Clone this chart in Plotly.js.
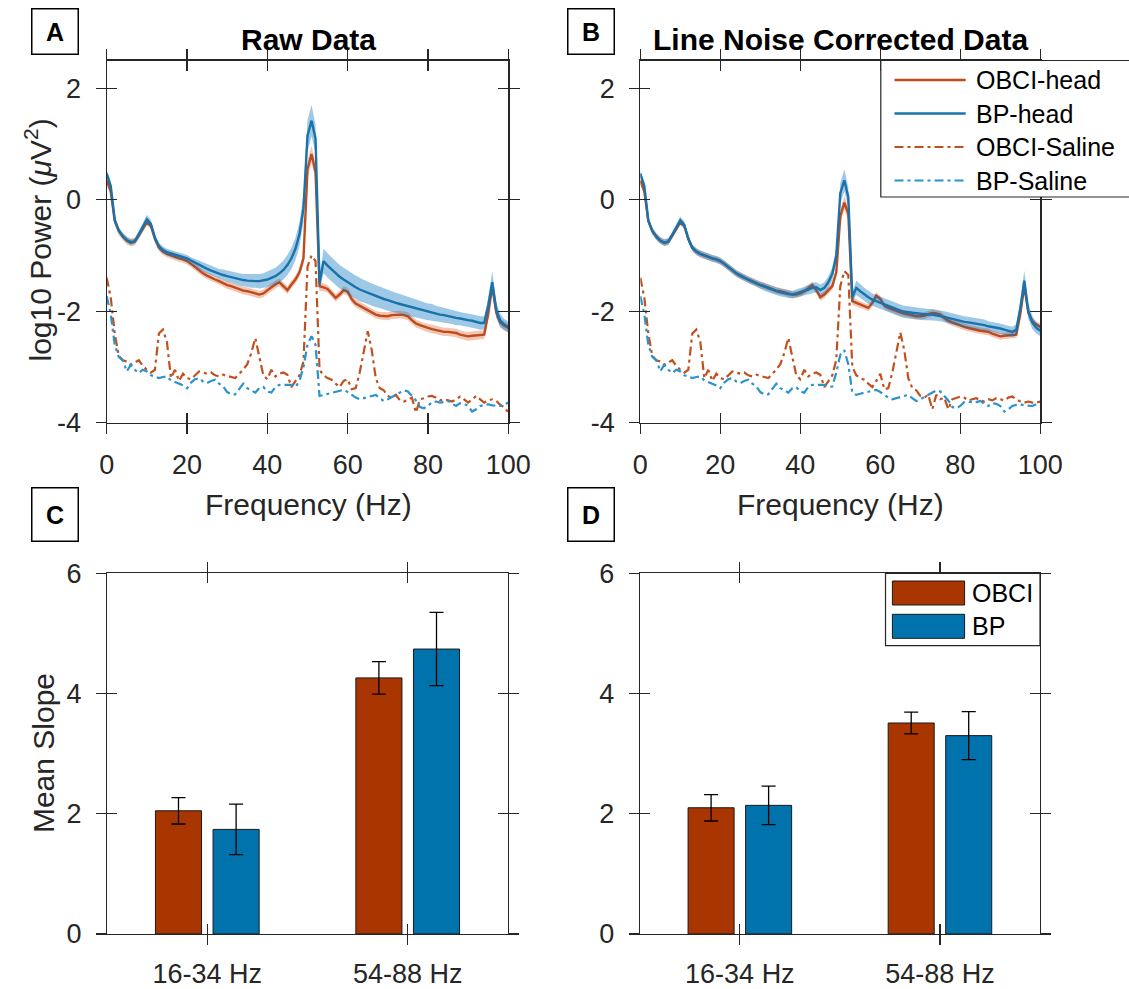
<!DOCTYPE html>
<html>
<head>
<meta charset="utf-8">
<script src="https://cdn.plot.ly/plotly-3.0.1.min.js"></script>
<style>html,body{margin:0;padding:0;background:#fff}#chart{width:1129px;height:989px}</style>
</head>
<body>
<div id="chart"></div>
<script>
// ---------------- DATA ----------------
const freqHz = [0,1,2,3,4,5,6,7,8,9,10,11,12,13,14,15,16,17,18,19,20,21,22,23,24,25,26,27,28,29,30,31,32,33,34,35,36,37,38,39,40,41,42,43,44,45,46,47,48,49,50,51,52,53,54,55,56,57,58,59,60,61,62,63,64,65,66,67,68,69,70,71,72,73,74,75,76,77,78,79,80,81,82,83,84,85,86,87,88,89,90,91,92,93,94,95,96,97,98,99,100];

// Panel A (raw data) – mean log10 power
const rawObciHead = [0.35,0.15,-0.38,-0.56,-0.66,-0.73,-0.77,-0.75,-0.64,-0.52,
 -0.40,-0.47,-0.70,-0.86,-0.93,-0.97,-1.00,-1.03,-1.05,-1.07,
 -1.10,-1.15,-1.21,-1.27,-1.32,-1.36,-1.40,-1.43,-1.46,-1.50,
 -1.53,-1.55,-1.58,-1.61,-1.63,-1.64,-1.66,-1.68,-1.70,-1.68,
 -1.62,-1.57,-1.52,-1.48,-1.55,-1.62,-1.52,-1.43,-1.30,-1.05,
 0.55,0.82,0.50,-1.55,-1.57,-1.60,-1.68,-1.76,-1.70,-1.62,
 -1.65,-1.78,-1.86,-1.90,-1.94,-1.98,-2.02,-2.06,-2.08,-2.09,
 -2.09,-2.07,-2.06,-2.06,-2.07,-2.09,-2.16,-2.22,-2.25,-2.28,
 -2.30,-2.32,-2.34,-2.36,-2.37,-2.37,-2.38,-2.39,-2.42,-2.44,
 -2.45,-2.44,-2.43,-2.43,-2.42,-2.05,-1.55,-2.02,-2.20,-2.26,-2.30];
const rawBpHead = [0.47,0.25,-0.36,-0.55,-0.65,-0.72,-0.76,-0.74,-0.62,-0.48,
 -0.35,-0.43,-0.68,-0.83,-0.90,-0.94,-0.96,-0.98,-1.00,-1.02,
 -1.05,-1.09,-1.13,-1.17,-1.21,-1.24,-1.27,-1.30,-1.33,-1.35,
 -1.37,-1.39,-1.41,-1.43,-1.44,-1.45,-1.46,-1.46,-1.46,-1.45,
 -1.43,-1.40,-1.37,-1.32,-1.26,-1.17,-1.05,-0.88,-0.62,-0.15,
 1.15,1.42,1.10,-1.50,-1.10,-1.18,-1.25,-1.32,-1.38,-1.43,
 -1.48,-1.53,-1.57,-1.61,-1.64,-1.67,-1.70,-1.73,-1.75,-1.78,
 -1.80,-1.83,-1.85,-1.87,-1.89,-1.91,-1.93,-1.95,-1.97,-1.99,
 -2.01,-2.02,-2.04,-2.06,-2.07,-2.09,-2.10,-2.12,-2.13,-2.15,
 -2.16,-2.17,-2.19,-2.21,-2.21,-1.90,-1.48,-1.97,-2.17,-2.24,-2.28];
const rawObciSaline = [-1.40,-1.75,-2.40,-2.80,-2.88,-2.90,-2.96,-2.92,-2.88,-2.98,
 -3.05,-3.10,-3.05,-2.40,-2.33,-2.55,-3.20,-3.05,-3.25,-3.12,
 -3.20,-3.22,-3.14,-3.08,-3.10,-3.12,-3.10,-3.15,-3.17,-3.14,
 -3.16,-3.18,-3.20,-3.12,-3.05,-2.95,-2.75,-2.48,-2.85,-3.15,
 -3.22,-3.05,-3.17,-3.12,-3.10,-3.14,-3.36,-3.25,-3.15,-2.90,
 -1.20,-1.00,-1.10,-3.05,-3.15,-3.20,-3.23,-3.30,-3.36,-3.25,
 -3.22,-3.40,-3.38,-3.10,-2.75,-2.36,-2.70,-3.20,-3.38,-3.42,
 -3.52,-3.55,-3.50,-3.60,-3.62,-3.58,-3.55,-3.82,-3.58,-3.56,
 -3.53,-3.52,-3.55,-3.60,-3.58,-3.60,-3.62,-3.58,-3.53,-3.58,
 -3.64,-3.58,-3.52,-3.58,-3.64,-3.60,-3.58,-3.61,-3.68,-3.72,-3.82];
const rawBpSaline = [-1.73,-2.05,-2.60,-2.82,-2.88,-3.08,-2.96,-3.05,-3.11,-3.05,
 -3.08,-3.15,-3.17,-3.20,-3.18,-3.17,-3.24,-3.27,-3.29,-3.33,
 -3.38,-3.28,-3.22,-3.20,-3.26,-3.29,-3.25,-3.23,-3.30,-3.35,
 -3.45,-3.49,-3.49,-3.40,-3.30,-3.38,-3.42,-3.46,-3.38,-3.36,
 -3.44,-3.46,-3.36,-3.32,-3.32,-3.32,-3.32,-3.36,-3.25,-3.00,
 -2.60,-2.45,-2.60,-3.52,-3.50,-3.48,-3.46,-3.44,-3.42,-3.41,
 -3.45,-3.50,-3.55,-3.58,-3.56,-3.55,-3.52,-3.50,-3.56,-3.61,
 -3.58,-3.54,-3.50,-3.46,-3.42,-3.44,-3.52,-3.60,-3.72,-3.74,
 -3.70,-3.63,-3.62,-3.64,-3.63,-3.61,-3.66,-3.70,-3.65,-3.66,
 -3.70,-3.80,-3.76,-3.70,-3.68,-3.67,-3.69,-3.70,-3.70,-3.67,-3.64];
const rawObciHeadSem = [0.07,0.07,0.07,0.07,0.07,0.07,0.07,0.07,0.07,0.07,
 0.06,0.06,0.06,0.06,0.06,0.06,0.06,0.06,0.06,0.06,
 0.06,0.06,0.06,0.06,0.06,0.06,0.06,0.06,0.06,0.06,
 0.07,0.07,0.07,0.07,0.07,0.07,0.07,0.07,0.07,0.07,
 0.07,0.07,0.07,0.07,0.07,0.07,0.07,0.07,0.08,0.10,
 0.15,0.15,0.15,0.08,0.07,0.07,0.07,0.07,0.07,0.07,
 0.07,0.07,0.07,0.07,0.07,0.07,0.07,0.07,0.07,0.07,
 0.07,0.07,0.07,0.07,0.07,0.07,0.07,0.07,0.07,0.07,
 0.075,0.075,0.075,0.075,0.075,0.075,0.075,0.075,0.075,0.075,
 0.08,0.08,0.08,0.08,0.08,0.10,0.12,0.10,0.08,0.08,0.08];
const rawBpHeadSem = [0.08,0.07,0.06,0.05,0.05,0.05,0.05,0.05,0.06,0.07,
 0.08,0.07,0.06,0.06,0.06,0.06,0.06,0.06,0.06,0.06,
 0.06,0.06,0.07,0.07,0.08,0.08,0.08,0.09,0.09,0.10,
 0.10,0.10,0.11,0.11,0.11,0.12,0.12,0.12,0.13,0.13,
 0.14,0.14,0.15,0.16,0.17,0.18,0.19,0.20,0.22,0.25,
 0.28,0.28,0.25,0.12,0.22,0.22,0.22,0.21,0.21,0.21,
 0.21,0.21,0.21,0.21,0.20,0.20,0.20,0.20,0.19,0.19,
 0.19,0.18,0.18,0.18,0.17,0.17,0.17,0.16,0.16,0.15,
 0.15,0.15,0.14,0.14,0.14,0.13,0.13,0.13,0.12,0.12,
 0.12,0.12,0.12,0.12,0.12,0.14,0.20,0.14,0.12,0.10,0.10];

// Panel B (line noise corrected)
const cleanObciHead = [0.35,0.15,-0.38,-0.56,-0.66,-0.73,-0.77,-0.75,-0.64,-0.52,
 -0.40,-0.47,-0.70,-0.86,-0.93,-0.97,-1.00,-1.03,-1.05,-1.07,
 -1.10,-1.15,-1.21,-1.27,-1.32,-1.36,-1.40,-1.43,-1.46,-1.50,
 -1.53,-1.55,-1.58,-1.61,-1.63,-1.64,-1.66,-1.68,-1.70,-1.70,
 -1.68,-1.64,-1.58,-1.53,-1.62,-1.75,-1.70,-1.62,-1.55,-1.30,
 -0.30,-0.05,-0.25,-1.82,-1.85,-1.88,-1.91,-1.94,-1.85,-1.72,
 -1.78,-1.90,-1.94,-1.97,-2.00,-2.02,-2.04,-2.06,-2.08,-2.09,
 -2.09,-2.08,-2.05,-2.03,-2.04,-2.06,-2.12,-2.17,-2.20,-2.23,
 -2.26,-2.28,-2.30,-2.32,-2.34,-2.35,-2.36,-2.37,-2.40,-2.43,
 -2.45,-2.44,-2.43,-2.43,-2.42,-2.05,-1.55,-2.02,-2.18,-2.24,-2.28];
const cleanBpHead = [0.47,0.25,-0.37,-0.56,-0.66,-0.73,-0.77,-0.75,-0.63,-0.50,
 -0.37,-0.45,-0.70,-0.86,-0.93,-0.97,-1.00,-1.03,-1.05,-1.07,
 -1.10,-1.15,-1.21,-1.27,-1.32,-1.36,-1.40,-1.44,-1.47,-1.50,
 -1.53,-1.56,-1.59,-1.62,-1.64,-1.66,-1.68,-1.69,-1.70,-1.68,
 -1.66,-1.64,-1.61,-1.58,-1.57,-1.62,-1.58,-1.48,-1.33,-1.00,
 0.12,0.35,0.05,-1.75,-1.58,-1.64,-1.70,-1.75,-1.79,-1.82,
 -1.85,-1.88,-1.91,-1.94,-1.97,-1.99,-2.01,-2.02,-2.03,-2.04,
 -2.05,-2.06,-2.06,-2.06,-2.07,-2.08,-2.10,-2.12,-2.14,-2.16,
 -2.18,-2.19,-2.20,-2.21,-2.23,-2.24,-2.25,-2.27,-2.28,-2.30,
 -2.31,-2.33,-2.35,-2.37,-2.33,-1.95,-1.45,-2.00,-2.20,-2.30,-2.35];
const cleanObciSaline = [-1.40,-1.75,-2.40,-2.80,-2.88,-2.90,-2.96,-2.92,-2.88,-2.98,
 -3.05,-3.10,-3.05,-2.40,-2.33,-2.55,-3.20,-3.05,-3.25,-3.12,
 -3.20,-3.22,-3.14,-3.08,-3.10,-3.12,-3.10,-3.15,-3.17,-3.14,
 -3.16,-3.18,-3.20,-3.12,-3.05,-2.95,-2.75,-2.48,-2.85,-3.15,
 -3.22,-3.05,-3.17,-3.12,-3.10,-3.14,-3.36,-3.25,-3.15,-2.87,
 -1.55,-1.28,-1.35,-3.00,-3.15,-3.20,-3.23,-3.30,-3.36,-3.25,
 -3.12,-3.40,-3.38,-3.10,-2.75,-2.38,-2.70,-3.20,-3.38,-3.42,
 -3.52,-3.55,-3.50,-3.76,-3.50,-3.58,-3.55,-3.76,-3.58,-3.56,
 -3.53,-3.55,-3.60,-3.58,-3.56,-3.60,-3.62,-3.58,-3.60,-3.56,
 -3.58,-3.60,-3.55,-3.53,-3.58,-3.62,-3.64,-3.62,-3.64,-3.64,-3.62];
const cleanBpSaline = [-1.73,-2.05,-2.60,-2.82,-2.88,-3.08,-2.96,-3.05,-3.11,-3.05,
 -3.08,-3.15,-3.17,-3.20,-3.18,-3.17,-3.24,-3.27,-3.29,-3.33,
 -3.38,-3.28,-3.22,-3.20,-3.26,-3.29,-3.25,-3.23,-3.30,-3.35,
 -3.45,-3.49,-3.49,-3.40,-3.30,-3.38,-3.42,-3.46,-3.38,-3.36,
 -3.44,-3.46,-3.36,-3.32,-3.32,-3.32,-3.32,-3.36,-3.35,-3.10,
 -2.78,-2.70,-2.95,-3.46,-3.50,-3.48,-3.46,-3.44,-3.42,-3.41,
 -3.45,-3.50,-3.55,-3.58,-3.56,-3.55,-3.52,-3.50,-3.56,-3.61,
 -3.58,-3.54,-3.50,-3.46,-3.42,-3.44,-3.52,-3.60,-3.72,-3.74,
 -3.70,-3.63,-3.62,-3.64,-3.63,-3.61,-3.66,-3.70,-3.65,-3.66,
 -3.70,-3.80,-3.76,-3.70,-3.68,-3.67,-3.69,-3.70,-3.70,-3.67,-3.64];
const cleanObciHeadSem = [0.06,0.06,0.06,0.06,0.06,0.06,0.06,0.06,0.06,0.06,
 0.06,0.06,0.06,0.06,0.06,0.06,0.06,0.06,0.06,0.06,
 0.06,0.06,0.06,0.06,0.06,0.06,0.06,0.06,0.06,0.06,
 0.06,0.06,0.06,0.06,0.06,0.06,0.06,0.06,0.06,0.06,
 0.06,0.06,0.06,0.06,0.06,0.06,0.06,0.06,0.07,0.08,
 0.12,0.12,0.12,0.07,0.06,0.06,0.06,0.06,0.06,0.06,
 0.06,0.06,0.06,0.06,0.06,0.06,0.06,0.06,0.06,0.06,
 0.06,0.06,0.06,0.06,0.06,0.06,0.06,0.06,0.06,0.06,
 0.06,0.06,0.06,0.06,0.06,0.06,0.06,0.06,0.06,0.06,
 0.06,0.06,0.06,0.06,0.06,0.08,0.10,0.08,0.06,0.06,0.06];
const cleanBpHeadSem = [0.06,0.06,0.06,0.06,0.06,0.06,0.06,0.06,0.06,0.06,
 0.07,0.06,0.06,0.06,0.06,0.06,0.06,0.06,0.06,0.06,
 0.06,0.06,0.06,0.06,0.06,0.06,0.06,0.06,0.06,0.06,
 0.07,0.07,0.07,0.07,0.07,0.07,0.07,0.07,0.07,0.07,
 0.08,0.08,0.08,0.09,0.09,0.10,0.10,0.11,0.12,0.14,
 0.18,0.20,0.18,0.10,0.13,0.12,0.12,0.12,0.11,0.11,
 0.11,0.11,0.11,0.11,0.11,0.11,0.11,0.11,0.11,0.11,
 0.10,0.10,0.10,0.10,0.10,0.10,0.10,0.10,0.10,0.10,
 0.10,0.10,0.10,0.10,0.10,0.10,0.10,0.09,0.09,0.09,
 0.09,0.09,0.09,0.09,0.10,0.14,0.18,0.14,0.12,0.10,0.10];

// Panels C & D – mean slope per band
const bandLabels = ['16-34 Hz', '54-88 Hz'];
const rawSlopeObci = [2.05, 4.26];
const rawSlopeObciErr = [0.22, 0.27];
const rawSlopeBp = [1.74, 4.74];
const rawSlopeBpErr = [0.42, 0.61];
const cleanSlopeObci = [2.10, 3.51];
const cleanSlopeObciErr = [0.22, 0.18];
const cleanSlopeBp = [2.14, 3.30];
const cleanSlopeBpErr = [0.32, 0.40];

// Ticks and legend labels
const freqTickVals = [0, 20, 40, 60, 80, 100];
const freqTickText = ['0', '20', '40', '60', '80', '100'];
const powerTickVals = [-4, -2, 0, 2];
const powerTickText = ['-4', '-2', '0', '2'];
const slopeTickVals = [0, 2, 4, 6];
const slopeTickText = ['0', '2', '4', '6'];
const lineLegendLabels = ['OBCI-head', 'BP-head', 'OBCI-Saline', 'BP-Saline'];
const barLegendLabels = ['OBCI', 'BP'];

// ---------------- STYLE ----------------
const FONT = 'Liberation Sans, Arial, Helvetica, sans-serif';
const TXT = '#262626';
const W = 1129, H = 989;
const px = v => v / W;
const py = v => 1 - v / H;

const C_OBCI_LINE = '#BF4A1C';
const C_BP_LINE = '#1A72AA';
const C_OBCI_BAND = 'rgba(217,83,25,0.33)';
const C_BP_BAND = 'rgba(0,114,189,0.38)';
const C_OBCI_SAL = '#C2501E';
const C_BP_SAL = '#2A93CB';
const C_OBCI_BAR = '#A93500';
const C_BP_BAR = '#0073AD';
const SAL_DASH = '9px,4px,3px,4px';

function band(xa, ya, mean, sem, color) {
  const lo = mean.map((v, i) => v - sem[i]);
  const hi = mean.map((v, i) => v + sem[i]);
  return [
    {type:'scatter', x:freqHz, y:lo, xaxis:xa, yaxis:ya, mode:'lines', line:{width:0, color:color}, hoverinfo:'skip', showlegend:false},
    {type:'scatter', x:freqHz, y:hi, xaxis:xa, yaxis:ya, mode:'lines', line:{width:0, color:color}, fill:'tonexty', fillcolor:color, hoverinfo:'skip', showlegend:false}
  ];
}
function line(xa, ya, y, color, width, dash, name) {
  return {type:'scatter', x:freqHz, y:y, xaxis:xa, yaxis:ya, mode:'lines', name:name,
          line:{color:color, width:width, dash:dash || 'solid'}, showlegend:false};
}
function spectrumPanel(xa, ya, oH, oSem, bH, bSem, oS, bS) {
  return [].concat(
    band(xa, ya, oH, oSem, C_OBCI_BAND),
    [line(xa, ya, oH, C_OBCI_LINE, 2.4, null, 'OBCI-head')],
    band(xa, ya, bH, bSem, C_BP_BAND),
    [line(xa, ya, bH, C_BP_LINE, 2.4, null, 'BP-head')],
    [line(xa, ya, oS, C_OBCI_SAL, 2.2, SAL_DASH, 'OBCI-Saline')],
    [line(xa, ya, bS, C_BP_SAL, 2.2, SAL_DASH, 'BP-Saline')]
  );
}
function bars(xa, ya, vals, errs, color, name) {
  return {type:'bar', x:bandLabels, y:vals, xaxis:xa, yaxis:ya, name:name,
          marker:{color:color, line:{color:'#1a1a1a', width:1}},
          error_y:{type:'data', array:errs, visible:true, color:'#000', thickness:1.3, width:7},
          showlegend:false};
}
function dummy(xa, ya) {
  return {type:'scatter', x:[-1000], y:[-1000], xaxis:xa, yaxis:ya, mode:'markers',
          marker:{opacity:0}, hoverinfo:'skip', showlegend:false};
}

const traces = [].concat(
  spectrumPanel('x', 'y', rawObciHead, rawObciHeadSem, rawBpHead, rawBpHeadSem, rawObciSaline, rawBpSaline),
  spectrumPanel('x2', 'y2', cleanObciHead, cleanObciHeadSem, cleanBpHead, cleanBpHeadSem, cleanObciSaline, cleanBpSaline),
  [bars('x3', 'y3', rawSlopeObci, rawSlopeObciErr, C_OBCI_BAR, 'OBCI'),
   bars('x3', 'y3', rawSlopeBp, rawSlopeBpErr, C_BP_BAR, 'BP'),
   bars('x4', 'y4', cleanSlopeObci, cleanSlopeObciErr, C_OBCI_BAR, 'OBCI'),
   bars('x4', 'y4', cleanSlopeBp, cleanSlopeBpErr, C_BP_BAR, 'BP')],
  [dummy('x5','y5'), dummy('x6','y6'), dummy('x7','y7'), dummy('x8','y8')]
);

// ---------------- AXES ----------------
const tickFont = {family:FONT, size:27, color:TXT};
function mainAx(extra) {
  return Object.assign({showline:true, linecolor:TXT, linewidth:1.2, mirror:'ticks',
    ticks:'outside', ticklen:10, tickwidth:1.2, tickcolor:TXT, showgrid:false, zeroline:false,
    tickfont:tickFont, fixedrange:true, tickmode:'array'}, extra);
}
function overAx(extra) {
  return Object.assign({showline:true, linecolor:TXT, linewidth:1.2, mirror:'ticks',
    ticks:'inside', ticklen:10, tickwidth:1.2, tickcolor:TXT, showgrid:false, zeroline:false,
    showticklabels:false, fixedrange:true, tickmode:'array'}, extra);
}
const domA = [px(106.7), px(508.3)];
const domB = [px(640.3), px(1040.3)];
const domC = [px(107.1), px(507.9)];
const domD = [px(639.8), px(1040.0)];
const domTop = [py(422.7), py(60.5)];
const domBot = [py(934), py(573.3)];
const xStand = 8, yStand = 9, cStand = 5;

const layout = {
  width: W, height: H,
  margin: {l:0, r:0, t:0, b:0, pad:0},
  paper_bgcolor: '#ffffff', plot_bgcolor: '#ffffff',
  showlegend: false, hovermode: false,
  barmode: 'group', bargap: 0.425, bargroupgap: 0.2,
  font: {family:FONT, color:TXT},
  xaxis:  mainAx({domain:domA, anchor:'y', range:[0,100], tickvals:freqTickVals, ticktext:freqTickText, ticklabelstandoff:xStand}),
  yaxis:  mainAx({domain:domTop, anchor:'x', range:[-4,2.5], tickvals:powerTickVals, ticktext:powerTickText, ticklabelstandoff:yStand}),
  xaxis2: mainAx({domain:domB, anchor:'y2', range:[0,100], tickvals:freqTickVals, ticktext:freqTickText, ticklabelstandoff:xStand}),
  yaxis2: mainAx({domain:domTop, anchor:'x2', range:[-4,2.5], tickvals:powerTickVals, ticktext:powerTickText, ticklabelstandoff:yStand}),
  xaxis3: mainAx({domain:domC, anchor:'y3', type:'category', range:[-0.5,1.5], tickvals:bandLabels, ticktext:bandLabels, ticklabelstandoff:cStand}),
  yaxis3: mainAx({domain:domBot, anchor:'x3', range:[0,6], tickvals:slopeTickVals, ticktext:slopeTickText, ticklabelstandoff:yStand}),
  xaxis4: mainAx({domain:domD, anchor:'y4', type:'category', range:[-0.5,1.5], tickvals:bandLabels, ticktext:bandLabels, ticklabelstandoff:cStand}),
  yaxis4: mainAx({domain:domBot, anchor:'x4', range:[0,6], tickvals:slopeTickVals, ticktext:slopeTickText, ticklabelstandoff:yStand}),
  xaxis5: overAx({overlaying:'x', anchor:'y5', range:[0,100], tickvals:freqTickVals}),
  yaxis5: overAx({overlaying:'y', anchor:'x5', range:[-4,2.5], tickvals:powerTickVals}),
  xaxis6: overAx({overlaying:'x2', anchor:'y6', range:[0,100], tickvals:freqTickVals}),
  yaxis6: overAx({overlaying:'y2', anchor:'x6', range:[-4,2.5], tickvals:powerTickVals}),
  xaxis7: overAx({overlaying:'x3', anchor:'y7', range:[-0.5,1.5], tickvals:[0,1]}),
  yaxis7: overAx({overlaying:'y3', anchor:'x7', range:[0,6], tickvals:slopeTickVals}),
  xaxis8: overAx({overlaying:'x4', anchor:'y8', range:[-0.5,1.5], tickvals:[0,1]}),
  yaxis8: overAx({overlaying:'y4', anchor:'x8', range:[0,6], tickvals:slopeTickVals}),
  shapes: [],
  annotations: []
};

// ---------------- TEXT / LEGENDS ----------------
const ann = layout.annotations, shp = layout.shapes;
function text(t, x, y, size, opts) {
  ann.push(Object.assign({text:t, x:px(x), y:py(y), xref:'paper', yref:'paper', showarrow:false,
    xanchor:'center', yanchor:'middle', font:{family:FONT, size:size, color:TXT}}, opts || {}));
}
function letter(t, cx, cy, w, h) {
  ann.push({text:'<b>'+t+'</b>', x:px(cx), y:py(cy), xref:'paper', yref:'paper', showarrow:false,
    xanchor:'center', yanchor:'middle', width:w, height:h, align:'center', valign:'middle',
    bordercolor:'#000', borderwidth:1.5, borderpad:0, bgcolor:'#fff',
    font:{family:FONT, size:25, color:'#000'}});
}
letter('A', 55.4, 31.7, 45, 44);
letter('B', 590.9, 31.7, 45, 44);
letter('C', 55.4, 514.5, 45, 52);
letter('D', 590.9, 514.5, 45, 52);

text('<b>Raw Data</b>', 308, 40, 30, {font:{family:FONT, size:30, color:'#000'}});
text('<b>Line Noise Corrected Data</b>', 840, 40, 30, {font:{family:FONT, size:30, color:'#000'}});
text('log10 Power (<i>μ</i>V<sup>2</sup>)', 38.5, 240, 30, {textangle:-90});
text('Frequency (Hz)', 308, 505, 30);
text('Frequency (Hz)', 840, 505, 30);
text('Mean Slope', 43.6, 753.5, 30, {textangle:-90});

// legend of panel B
shp.push({type:'rect', xref:'paper', yref:'paper', x0:px(880.8), x1:px(1150), y0:py(197), y1:py(60.5),
  line:{color:TXT, width:1.2}, fillcolor:'#fff', layer:'above'});
const legRowsY = [80, 113.5, 147, 180.5];
const legColors = [C_OBCI_LINE, C_BP_LINE, C_OBCI_SAL, C_BP_SAL];
const legDash = ['solid', 'solid', SAL_DASH, SAL_DASH];
const legWidth = [2.4, 2.4, 2.2, 2.2];
lineLegendLabels.forEach((lab, i) => {
  shp.push({type:'line', xref:'paper', yref:'paper', x0:px(894.5), x1:px(965.7), y0:py(legRowsY[i]), y1:py(legRowsY[i]),
    line:{color:legColors[i], width:legWidth[i], dash:legDash[i]}, layer:'above'});
  text(lab, 973.6, legRowsY[i], 25, {xanchor:'left', font:{family:FONT, size:25, color:'#000'}});
});
// legend of panel D
shp.push({type:'rect', xref:'paper', yref:'paper', x0:px(885.5), x1:px(1040), y0:py(645.7), y1:py(573.3),
  line:{color:TXT, width:1.2}, fillcolor:'#fff', layer:'above'});
const barLegY = [[581, 605], [614.3, 638.3]];
const barLegC = [C_OBCI_BAR, C_BP_BAR];
barLegendLabels.forEach((lab, i) => {
  shp.push({type:'rect', xref:'paper', yref:'paper', x0:px(892.4), x1:px(964.6), y0:py(barLegY[i][1]), y1:py(barLegY[i][0]),
    line:{color:'#1a1a1a', width:1}, fillcolor:barLegC[i], layer:'above'});
  text(lab, 970, (barLegY[i][0]+barLegY[i][1])/2, 25, {xanchor:'left', font:{family:FONT, size:25, color:'#000'}});
});

Plotly.newPlot('chart', traces, layout, {staticPlot:true, displayModeBar:false});
</script>
</body>
</html>
